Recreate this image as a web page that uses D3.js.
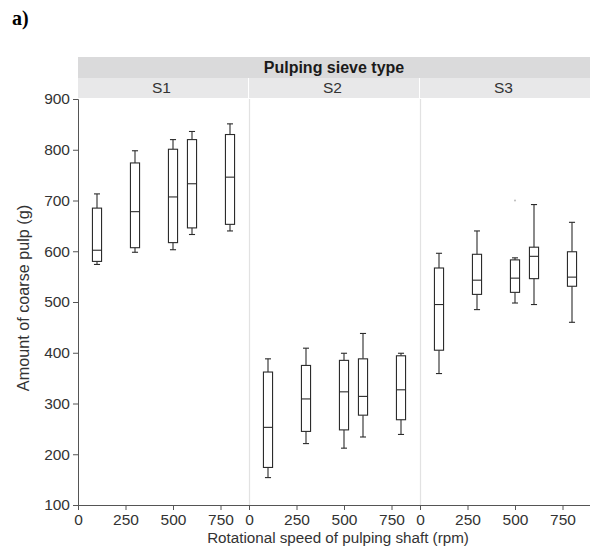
<!DOCTYPE html>
<html>
<head>
<meta charset="utf-8">
<script src="https://cdn.jsdelivr.net/npm/d3@7"></script>
<style>
  body { margin: 0; background: #fff; }
  text { font-family: "Liberation Sans", Arial, sans-serif; }
</style>
</head>
<body>
<div id="chart-area"></div>
<script>
// data
var sieves = ["S1", "S2", "S3"];
var speeds = [100, 300, 500, 600, 800];
var speedTicks = [0, 250, 500, 750];
var yTicks = [100, 200, 300, 400, 500, 600, 700, 800, 900];

var whiskerLow = [
    [574, 598, 603, 633, 640],
    [154, 221, 212, 234, 239],
    [359, 485, 498, 495, 460]
];
var q1 = [
    [580, 607, 617, 646, 653],
    [174, 245, 248, 277, 268],
    [405, 515, 519, 546, 531]
];
var median = [
    [602, 678, 707, 733, 746],
    [253, 309, 323, 314, 327],
    [495, 543, 547, 590, 549]
];
var q3 = [
    [685, 774, 801, 820, 830],
    [362, 375, 385, 388, 394],
    [567, 594, 583, 608, 599]
];
var whiskerHigh = [
    [713, 798, 820, 836, 851],
    [388, 409, 399, 438, 399],
    [596, 640, 587, 692, 657]
];
// outliers: [sieve index, speed, value]
var outliers = [[2, 500, 700]];

var width = 590, height = 551;
var plotLeft = 78, plotRight = 591, plotTop = 99, plotBottom = 505;

var svg = d3.select("#chart-area")
    .append("svg")
    .attr("width", width)
    .attr("height", height);

var panel = d3.scaleBand()
    .domain(sieves)
    .range([plotLeft, plotRight])
    .paddingInner(0)
    .paddingOuter(0);

var x = d3.scaleLinear()
    .domain([0, 900])
    .range([0, panel.bandwidth()]);

var y = d3.scaleLinear()
    .domain([100, 900])
    .range([plotBottom, plotTop]);

// "a)" label
svg.append("text")
    .attr("x", 12)
    .attr("y", 25)
    .attr("style", "font-family: 'Liberation Serif', 'Times New Roman', serif; font-size: 20px; font-weight: bold")
    .text("a)");

// top strip
svg.append("rect")
    .attr("x", plotLeft)
    .attr("y", 57)
    .attr("width", plotRight - plotLeft)
    .attr("height", 21)
    .attr("fill", "#dadadb");

svg.append("text")
    .attr("x", 334)
    .attr("y", 73)
    .attr("text-anchor", "middle")
    .attr("style", "font-size: 16px; font-weight: bold")
    .attr("fill", "#1a1a1a")
    .text("Pulping sieve type");

// panel strips
var strips = svg.selectAll(".strip")
    .data(sieves)
    .enter()
    .append("g")
    .attr("class", "strip");

strips.append("rect")
    .attr("x", d => panel(d))
    .attr("y", 78)
    .attr("width", panel.bandwidth() - 1)
    .attr("height", 20)
    .attr("fill", "#e8e8e9");

strips.append("text")
    .attr("x", d => panel(d) + panel.bandwidth() / 2 - 2)
    .attr("y", 93)
    .attr("text-anchor", "middle")
    .attr("style", "font-size: 15.5px")
    .attr("fill", "#333")
    .text(d => d);

// panel dividers
svg.selectAll(".divider")
    .data(sieves.slice(1))
    .enter()
    .append("line")
    .attr("class", "divider")
    .attr("x1", d => panel(d) + 0.5)
    .attr("x2", d => panel(d) + 0.5)
    .attr("y1", plotTop)
    .attr("y2", plotBottom)
    .attr("stroke", "#e2e2e2")
    .attr("stroke-width", 1.2);

// y axis
var yAxisCall = d3.axisLeft(y)
    .tickValues(yTicks)
    .tickSize(5)
    .tickPadding(3);
var yAxis = svg.append("g")
    .attr("class", "y axis")
    .attr("transform", "translate(" + plotLeft + ",0)")
    .call(yAxisCall);
yAxis.selectAll("text")
    .attr("style", "font-size: 15.5px")
    .attr("fill", "#333");
yAxis.selectAll("line, path").attr("stroke", "#555");

// x axes, one per panel
sieves.forEach(s => {
    var xAxisCall = d3.axisBottom(x)
        .tickValues(speedTicks)
        .tickSize(5)
        .tickPadding(4);
    var g = svg.append("g")
        .attr("class", "x axis")
        .attr("transform", "translate(" + panel(s) + "," + plotBottom + ")")
        .call(xAxisCall);
    g.select(".domain").remove();
    g.selectAll("text")
        .attr("style", "font-size: 15.5px")
        .attr("fill", "#333");
    g.selectAll("line").attr("stroke", "#555");
});
svg.append("line")
    .attr("x1", plotLeft)
    .attr("x2", plotRight)
    .attr("y1", plotBottom + 0.5)
    .attr("y2", plotBottom + 0.5)
    .attr("stroke", "#555");

// axis labels
svg.append("text")
    .attr("x", 338)
    .attr("y", 543)
    .attr("text-anchor", "middle")
    .attr("style", "font-size: 15.2px")
    .attr("fill", "#333")
    .text("Rotational speed of pulping shaft (rpm)");

svg.append("text")
    .attr("x", -298)
    .attr("y", 29)
    .attr("text-anchor", "middle")
    .attr("transform", "rotate(-90)")
    .attr("style", "font-size: 16.2px")
    .attr("fill", "#333")
    .text("Amount of coarse pulp (g)");

// boxes
var boxes = [];
sieves.forEach((s, i) => {
    speeds.forEach((sp, j) => {
        boxes.push({
            sieve: s, speed: sp,
            lo: whiskerLow[i][j], q1: q1[i][j], med: median[i][j],
            q3: q3[i][j], hi: whiskerHigh[i][j]
        });
    });
});

var halfBox = 24, halfCap = 16;
var bx = d => panel(d.sieve) + x(d.speed);

var box = svg.selectAll(".box")
    .data(boxes)
    .enter()
    .append("g")
    .attr("class", "box")
    .attr("stroke", "#2b2b2b")
    .attr("stroke-width", 1.1)
    .attr("fill", "none");

box.append("line")
    .attr("x1", bx).attr("x2", bx)
    .attr("y1", d => y(d.hi)).attr("y2", d => y(d.q3));
box.append("line")
    .attr("x1", bx).attr("x2", bx)
    .attr("y1", d => y(d.q1)).attr("y2", d => y(d.lo));
box.append("line")
    .attr("x1", d => bx(d) - (x(halfCap) - x(0)))
    .attr("x2", d => bx(d) + (x(halfCap) - x(0)))
    .attr("y1", d => y(d.hi)).attr("y2", d => y(d.hi));
box.append("line")
    .attr("x1", d => bx(d) - (x(halfCap) - x(0)))
    .attr("x2", d => bx(d) + (x(halfCap) - x(0)))
    .attr("y1", d => y(d.lo)).attr("y2", d => y(d.lo));
box.append("rect")
    .attr("x", d => bx(d) - (x(halfBox) - x(0)))
    .attr("width", x(2 * halfBox) - x(0))
    .attr("y", d => y(d.q3))
    .attr("height", d => y(d.q1) - y(d.q3))
    .attr("fill", "#fff");
box.append("line")
    .attr("x1", d => bx(d) - (x(halfBox) - x(0)))
    .attr("x2", d => bx(d) + (x(halfBox) - x(0)))
    .attr("y1", d => y(d.med)).attr("y2", d => y(d.med));

svg.selectAll(".outlier")
    .data(outliers)
    .enter()
    .append("circle")
    .attr("class", "outlier")
    .attr("cx", d => panel(sieves[d[0]]) + x(d[1]))
    .attr("cy", d => y(d[2]))
    .attr("r", 1)
    .attr("fill", "#bbb");
</script>
</body>
</html>
